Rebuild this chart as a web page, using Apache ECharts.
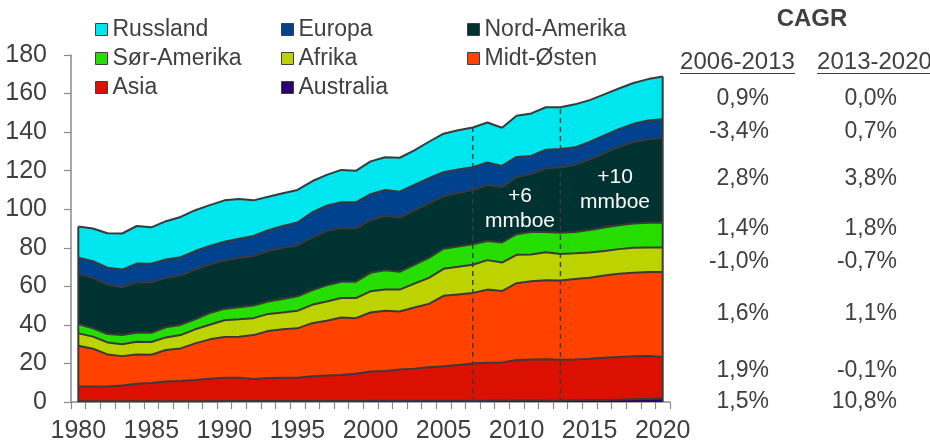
<!DOCTYPE html>
<html>
<head>
<meta charset="utf-8">
<script src="https://cdn.jsdelivr.net/npm/echarts@6/dist/echarts.min.js"></script>
<style>
  html, body { margin: 0; padding: 0; background: #ffffff; }
  #chart { width: 930px; height: 448px; }
</style>
</head>
<body>
<div id="chart"></div>
<script>
// Oil and gas production by region, 1980-2020 (mmboe/d), stacked bottom-up
const years = [
  '1980','1981','1982','1983','1984','1985','1986','1987','1988','1989',
  '1990','1991','1992','1993','1994','1995','1996','1997','1998','1999',
  '2000','2001','2002','2003','2004','2005','2006','2007','2008','2009',
  '2010','2011','2012','2013','2014','2015','2016','2017','2018','2019','2020'
];

const australia = [
  0.4, 0.4, 0.4, 0.4, 0.4, 0.4, 0.4, 0.4, 0.4, 0.4,
  0.5, 0.5, 0.5, 0.5, 0.5, 0.5, 0.5, 0.5, 0.5, 0.5,
  0.6, 0.6, 0.6, 0.7, 0.7, 0.7, 0.7, 0.7, 0.7, 0.75,
  0.75, 0.8, 0.8, 0.8, 0.9, 1.0, 1.1, 1.2, 1.4, 1.6, 1.8
];
const asia = [
  7.7, 7.7, 7.7, 8.1, 9.1, 9.4, 10.2, 10.5, 11.0, 11.7,
  12.1, 12.1, 11.4, 11.9, 12.1, 12.1, 12.8, 13.2, 13.5, 14.2,
  15.2, 15.5, 16.2, 16.6, 17.3, 17.8, 18.5, 19.3, 19.6, 19.8,
  21.0, 21.2, 21.4, 21.1, 21.2, 21.4, 21.8, 22.1, 22.3, 22.2, 21.6
];
const midtOsten = [
  21.1, 19.5, 16.6, 15.3, 15.2, 14.7, 16.4, 16.9, 19.0, 20.4,
  21.1, 21.3, 22.8, 24.4, 25.1, 25.6, 27.6, 28.5, 29.8, 28.8,
  30.6, 31.2, 30.1, 31.7, 32.9, 36.6, 36.6, 36.5, 38.0, 37.0,
  39.9, 40.6, 40.9, 41.1, 41.7, 42.1, 42.7, 43.2, 43.3, 43.6, 44.0
];
const afrika = [
  6.4, 6.3, 6.2, 6.2, 6.5, 6.6, 6.5, 6.9, 7.3, 7.6,
  8.7, 9.0, 8.8, 8.9, 8.7, 9.1, 9.5, 9.9, 10.1, 10.4,
  11.0, 11.0, 11.4, 12.4, 13.5, 14.0, 14.3, 14.7, 15.3, 14.8,
  14.7, 13.9, 14.6, 13.8, 13.3, 13.1, 12.7, 12.8, 13.0, 12.8, 12.8
];
const sorAmerika = [
  4.9, 4.3, 4.4, 4.7, 4.7, 4.8, 5.3, 5.3, 5.2, 6.0,
  5.9, 6.3, 6.6, 6.4, 7.0, 7.5, 7.5, 8.4, 8.5, 8.5,
  9.6, 10.0, 9.2, 9.8, 10.4, 10.4, 10.5, 10.6, 9.9, 10.4,
  10.7, 11.7, 10.5, 11.0, 11.1, 11.6, 12.2, 12.4, 12.6, 12.8, 12.8
];
const nordAmerika = [
  26.0, 26.2, 25.6, 24.8, 26.2, 26.2, 25.6, 25.6, 25.8, 25.2,
  25.1, 25.6, 25.6, 26.2, 26.6, 26.4, 27.4, 28.2, 27.9, 27.7,
  27.3, 28.3, 28.2, 28.2, 28.2, 27.2, 27.8, 28.2, 29.1, 28.7,
  29.6, 30.0, 33.1, 33.8, 34.8, 36.6, 38.6, 40.6, 42.3, 43.3, 44.1
];
const europa = [
  8.3, 8.6, 8.8, 9.2, 9.7, 9.6, 9.5, 9.5, 9.6, 9.6,
  9.7, 9.9, 10.4, 10.8, 11.3, 11.9, 13.0, 13.1, 13.3, 13.5,
  13.5, 13.4, 13.4, 13.2, 13.1, 12.5, 12.2, 11.8, 11.7, 11.0,
  10.5, 9.4, 9.6, 9.6, 9.1, 9.1, 9.2, 9.2, 9.4, 9.7, 9.6
];
const russland = [
  16.2, 17.0, 17.8, 18.7, 19.5, 18.9, 19.9, 20.9, 21.2, 21.2,
  21.5, 20.6, 18.5, 17.4, 17.0, 16.9, 16.2, 16.0, 16.8, 16.3,
  17.0, 17.0, 17.6, 17.9, 18.9, 20.0, 20.4, 20.6, 20.7, 19.8,
  21.3, 22.1, 22.0, 21.7, 22.3, 21.7, 21.3, 21.1, 21.2, 21.5, 22.1
];

// Period boundaries marked with dashed verticals
const periodYears = ['2007', '2013'];
const growthNotes = ['+6\nmmboe', '+10\nmmboe'];

// CAGR table (rows top-down: Russland ... Australia)
const cagrTitle = 'CAGR';
const cagrHeads = ['2006-2013', '2013-2020'];
const cagr0613 = ['0,9%', '-3,4%', '2,8%', '1,4%', '-1,0%', '1,6%', '1,9%', '1,5%'];
const cagr1320 = ['0,0%', '0,7%', '3,8%', '1,8%', '-0,7%', '1,1%', '-0,1%', '10,8%'];

// ---- styling / layout ----
const FONT = '"Liberation Sans", Arial, Helvetica, sans-serif';
const TEXT = '#404040';
const EDGE = '#3a3a3a';
const AXIS = '#8a8a8a';

const layers = [
  { name: 'Australia',    data: australia,   color: '#2B0070' },
  { name: 'Asia',         data: asia,        color: '#DC1000' },
  { name: 'Midt-Østen',   data: midtOsten,   color: '#FF4200' },
  { name: 'Afrika',       data: afrika,      color: '#BDD300' },
  { name: 'Sør-Amerika',  data: sorAmerika,  color: '#26DD00' },
  { name: 'Nord-Amerika', data: nordAmerika, color: '#003232' },
  { name: 'Europa',       data: europa,      color: '#00428E' },
  { name: 'Russland',     data: russland,    color: '#00E6EF' }
];

const totals = years.map((_, i) => layers.reduce((s, l) => s + l.data[i], 0));

const tableRowY = [99, 132, 179, 229, 262, 314, 371, 402];
const colRight = [769, 897];
const headCenter = [737.5, 874.5];
const notePos = [[520, 209], [615, 190]];

const areaSeries = layers.map((l, i) => ({
  type: 'line',
  name: l.name,
  stack: 'total',
  data: l.data,
  symbol: 'none',
  showSymbol: false,
  z: 10 - i,
  lineStyle: { color: EDGE, width: 2 },
  itemStyle: { color: l.color },
  areaStyle: { color: l.color, opacity: 1 },
  emphasis: { disabled: true },
  silent: true
}));

// verticals: solid outer edges of the stack and dashed period markers
const verticals = [
  [0, totals[0], 0],
  [years.length - 1, totals[years.length - 1], 0]
].concat(periodYears.map(y => {
  const i = years.indexOf(y);
  return [i, totals[i], 1];
}));

const edgeSeries = {
  type: 'custom',
  z: 20,
  silent: true,
  data: verticals,
  encode: { x: 0, y: 1 },
  renderItem: function (params, api) {
    const x = api.value(0);
    const top = api.value(1);
    const dashed = api.value(2) === 1;
    const p0 = api.coord([x, 0]);
    const p1 = api.coord([x, top]);
    return {
      type: 'line',
      shape: { x1: p0[0], y1: p0[1], x2: p1[0], y2: p1[1] },
      style: {
        stroke: EDGE,
        lineWidth: dashed ? 1.4 : 2,
        lineDash: dashed ? [5, 4] : null
      }
    };
  }
};

function legendColumn(names, left) {
  return {
    data: names,
    orient: 'vertical',
    left: left,
    top: 18,
    padding: 0,
    itemGap: 6,
    itemWidth: 12,
    itemHeight: 12,
    icon: 'rect',
    selectedMode: false,
    itemStyle: { borderColor: '#404040', borderWidth: 1 },
    textStyle: { fontFamily: FONT, fontSize: 23, color: TEXT, lineHeight: 23 }
  };
}

function txt(text, x, y, font, fill, align, vAlign, extra) {
  return {
    type: 'text',
    x: x,
    y: y,
    z: 100,
    silent: true,
    style: Object.assign({
      text: text,
      font: font,
      fill: fill,
      align: align,
      verticalAlign: vAlign,
      textAlign: align,
      textVerticalAlign: vAlign
    }, extra || {})
  };
}

const graphics = [];
graphics.push(txt(cagrTitle, 812, 19, 'bold 24px ' + FONT, TEXT, 'center', 'middle'));
cagrHeads.forEach((h, k) => {
  graphics.push(txt(h, headCenter[k], 62, '24px ' + FONT, TEXT, 'center', 'middle'));
  graphics.push({
    type: 'line',
    z: 100,
    silent: true,
    shape: { x1: headCenter[k] - 57.5, y1: 73.5, x2: headCenter[k] + 57.5, y2: 73.5 },
    style: { stroke: TEXT, lineWidth: 1.2 }
  });
});
cagr0613.forEach((v, r) => {
  graphics.push(txt(v, colRight[0], tableRowY[r], '23px ' + FONT, TEXT, 'right', 'middle'));
});
cagr1320.forEach((v, r) => {
  graphics.push(txt(v, colRight[1], tableRowY[r], '23px ' + FONT, TEXT, 'right', 'middle'));
});
growthNotes.forEach((n, k) => {
  graphics.push(txt(n, notePos[k][0], notePos[k][1], '21px ' + FONT, '#ffffff', 'center', 'middle', { lineHeight: 25 }));
});

const chart = echarts.init(document.getElementById('chart'), null, { renderer: 'canvas' });
chart.setOption({
  animation: false,
  backgroundColor: '#ffffff',
  textStyle: { fontFamily: FONT },
  grid: { left: 71, right: 260, top: 55, bottom: 46, containLabel: false },
  legend: [
    legendColumn(['Russland', 'Sør-Amerika', 'Asia'], 95),
    legendColumn(['Europa', 'Afrika', 'Australia'], 281),
    legendColumn(['Nord-Amerika', 'Midt-Østen'], 467)
  ],
  xAxis: {
    type: 'category',
    data: years,
    boundaryGap: true,
    axisLine: { show: true, lineStyle: { color: AXIS, width: 1.5 } },
    axisTick: { show: true, interval: 0, length: 7, alignWithLabel: false, lineStyle: { color: AXIS, width: 1.2 } },
    axisLabel: { interval: 4, margin: 17, fontSize: 25, color: TEXT, fontFamily: FONT },
    splitLine: { show: false }
  },
  yAxis: {
    type: 'value',
    min: 0,
    max: 180,
    interval: 20,
    axisLine: { show: true, lineStyle: { color: AXIS, width: 1.5 } },
    axisTick: { show: true, length: 7, lineStyle: { color: AXIS, width: 1.2 } },
    axisLabel: { margin: 24, fontSize: 25, color: TEXT, fontFamily: FONT },
    splitLine: { show: false }
  },
  series: areaSeries.concat([edgeSeries]),
  graphic: { elements: graphics }
});
</script>
</body>
</html>
